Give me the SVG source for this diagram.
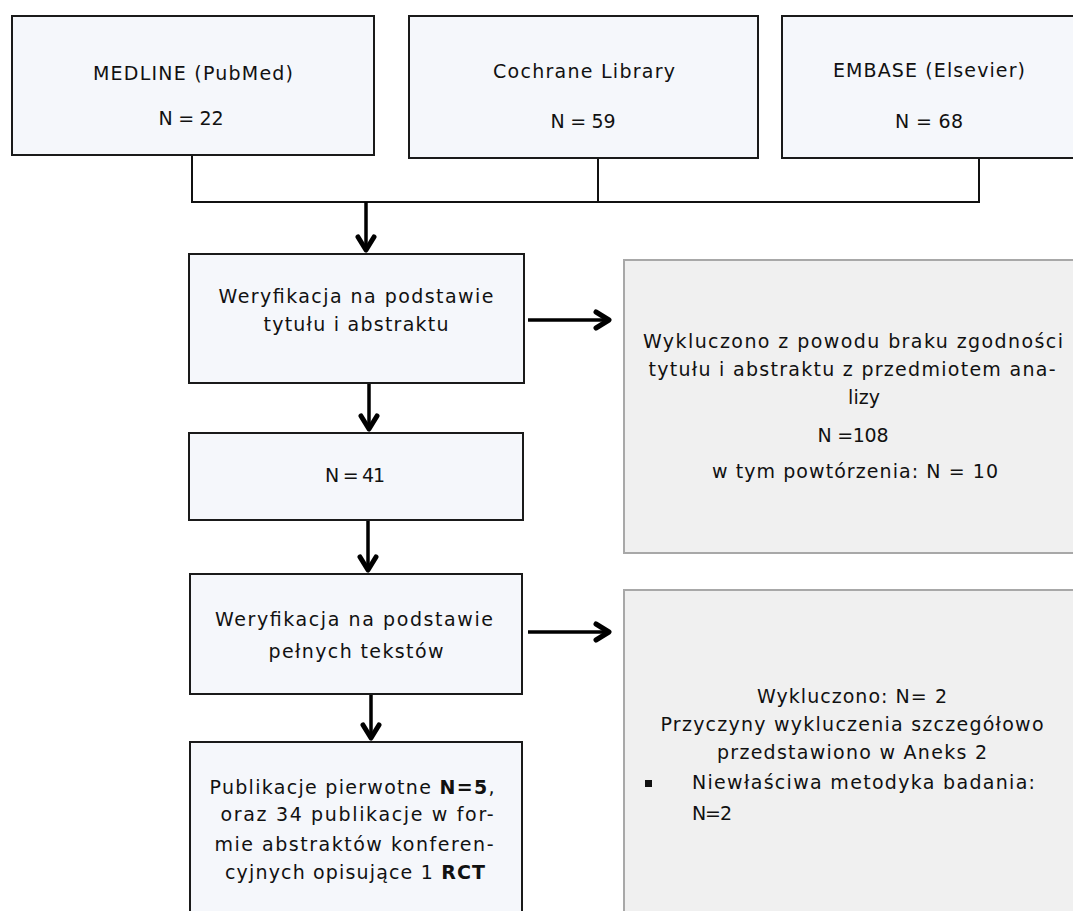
<svg xmlns="http://www.w3.org/2000/svg" width="1073" height="911" viewBox="0 0 1073 911">
  <style>
    .box { fill: #f5f7fb; stroke: #1a1a1a; stroke-width: 2; }
    .gbox { fill: #f0f0f0; stroke: #a8a8a8; stroke-width: 2; }
    .t { font-family: "DejaVu Sans", "Liberation Sans", sans-serif; font-size: 19px; fill: #111; text-anchor: middle; }
    .tl { font-family: "DejaVu Sans", "Liberation Sans", sans-serif; font-size: 19px; fill: #111; text-anchor: start; }
    .b { font-weight: bold; }
    .line { fill: none; stroke: #111; stroke-width: 2; }
    .arr { fill: none; stroke: #000; stroke-width: 3.5; marker-end: url(#head); }
  </style>
  <defs>
    <marker id="head" markerUnits="userSpaceOnUse" viewBox="0 0 22 22" markerWidth="22" markerHeight="22" refX="18" refY="11" orient="auto">
      <path d="M4,3 L17,11 L4,19" fill="none" stroke="#000" stroke-width="5" stroke-linejoin="round" stroke-linecap="round"/>
    </marker>
  </defs>
  <rect width="1073" height="911" fill="#ffffff"/>

  <g id="connectors">
    <path class="line" d="M192,155 V202 M598,158 V202 M979,158 V202 M191,202 H980"/>
    <path class="arr" d="M366,202 V251"/>
    <path class="arr" d="M369,383 V430"/>
    <path class="arr" d="M368,520 V571"/>
    <path class="arr" d="M371,694 V739"/>
    <path class="arr" d="M528,320 H610"/>
    <path class="arr" d="M528,632 H610"/>
  </g>

  <g id="medline">
    <rect class="box" x="12" y="16" width="362" height="139"/>
    <text class="t" x="193" y="80" textLength="200">MEDLINE (PubMed)</text>
    <text class="t" x="191" y="125" textLength="65">N = 22</text>
  </g>
  <g id="cochrane">
    <rect class="box" x="409" y="16" width="349" height="142"/>
    <text class="t" x="584" y="78" textLength="182">Cochrane Library</text>
    <text class="t" x="583" y="128" textLength="65">N = 59</text>
  </g>
  <g id="embase">
    <rect class="box" x="782" y="16" width="300" height="142"/>
    <text class="t" x="929" y="77" textLength="192">EMBASE (Elsevier)</text>
    <text class="t" x="929" y="128" textLength="68">N = 68</text>
  </g>

  <g id="weryfikacja1">
    <rect class="box" x="189" y="254" width="335" height="129"/>
    <text class="t" x="356" y="303" textLength="275">Weryfikacja na podstawie</text>
    <text class="t" x="356" y="331" textLength="185">tytułu i abstraktu</text>
  </g>

  <g id="wykluczono1">
    <rect class="gbox" x="624" y="260" width="460" height="293"/>
    <text class="t" x="853" y="348" textLength="420">Wykluczono z powodu braku zgodności</text>
    <text class="t" x="852" y="376" textLength="407">tytułu i abstraktu z przedmiotem ana-</text>
    <text class="t" x="864" y="404">lizy</text>
    <text class="t" x="853" y="442" textLength="71">N =108</text>
    <text class="t" x="855" y="478" textLength="286">w tym powtórzenia: N = 10</text>
  </g>

  <g id="n41">
    <rect class="box" x="189" y="433" width="334" height="87"/>
    <text class="t" x="355" y="482" textLength="60">N = 41</text>
  </g>

  <g id="weryfikacja2">
    <rect class="box" x="190" y="574" width="332" height="120"/>
    <text class="t" x="354" y="626" textLength="278">Weryfikacja na podstawie</text>
    <text class="t" x="356" y="658" textLength="175">pełnych tekstów</text>
  </g>

  <g id="wykluczono2">
    <rect class="gbox" x="624" y="590" width="460" height="340"/>
    <text class="t" x="852" y="703" textLength="190">Wykluczono: N= 2</text>
    <text class="t" x="852" y="731" textLength="383">Przyczyny wykluczenia szczegółowo</text>
    <text class="t" x="852" y="759" textLength="270">przedstawiono w Aneks 2</text>
    <rect x="645" y="780" width="7" height="7" fill="#111"/>
    <text class="tl" x="692" y="789" textLength="343">Niewłaściwa metodyka badania:</text>
    <text class="tl" x="692" y="820" textLength="40">N=2</text>
  </g>

  <g id="publikacje">
    <rect class="box" x="190" y="742" width="332" height="200"/>
    <text class="t" x="352" y="794" textLength="285">Publikacje pierwotne <tspan class="b">N=5</tspan>,</text>
    <text class="t" x="357" y="821" textLength="273">oraz 34 publikacje w for-</text>
    <text class="t" x="354" y="851" textLength="279">mie abstraktów konferen-</text>
    <text class="t" x="355" y="879" textLength="260">cyjnych opisujące 1 <tspan class="b">RCT</tspan></text>
  </g>
</svg>
